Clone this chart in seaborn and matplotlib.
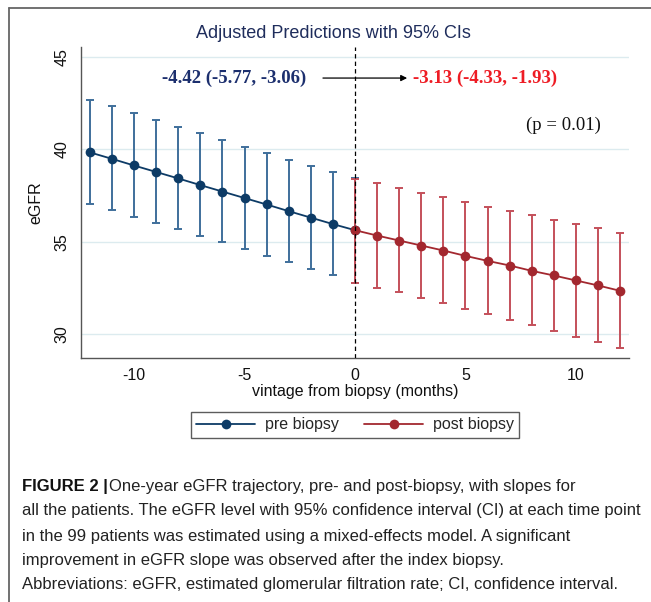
import matplotlib
matplotlib.use("Agg")
import matplotlib.pyplot as plt
from matplotlib.lines import Line2D
import seaborn as sns
import pandas as pd

# ---- data: adjusted eGFR predictions with 95% CIs ----
months_pre = [-12, -11, -10, -9, -8, -7, -6, -5, -4, -3, -2, -1, 0]
egfr_pre = [39.84, 39.49, 39.13, 38.78, 38.43, 38.07, 37.72, 37.37, 37.02, 36.66, 36.31, 35.96, 35.63]
lo_pre = [37.02, 36.72, 36.35, 36.03, 35.67, 35.32, 34.97, 34.62, 34.26, 33.90, 33.54, 33.20, 32.80]
hi_pre = [42.67, 42.34, 41.95, 41.58, 41.22, 40.87, 40.50, 40.14, 39.82, 39.44, 39.10, 38.79, 38.43]

months_post = [0, 1, 2, 3, 4, 5, 6, 7, 8, 9, 10, 11, 12]
egfr_post = [35.63, 35.34, 35.07, 34.80, 34.53, 34.24, 33.97, 33.72, 33.43, 33.18, 32.91, 32.64, 32.35]
lo_post = [32.80, 32.51, 32.26, 31.95, 31.67, 31.36, 31.07, 30.76, 30.48, 30.17, 29.86, 29.56, 29.26]
hi_post = [38.41, 38.16, 37.91, 37.65, 37.42, 37.16, 36.91, 36.68, 36.43, 36.19, 35.96, 35.74, 35.49]

series_labels = ["pre biopsy", "post biopsy"]
slope_pre = "-4.42 (-5.77, -3.06)"
slope_post = "-3.13 (-4.33, -1.93)"
p_text = "(p = 0.01)"
y_ticks = [30, 35, 40, 45]
x_ticks = [-10, -5, 0, 5, 10]

caption_head = "FIGURE 2 |"
caption_lines = [
    "One-year eGFR trajectory, pre- and post-biopsy, with slopes for",
    "all the patients. The eGFR level with 95% confidence interval (CI) at each time point",
    "in the 99 patients was estimated using a mixed-effects model. A significant",
    "improvement in eGFR slope was observed after the index biopsy.",
    "Abbreviations: eGFR, estimated glomerular filtration rate; CI, confidence interval.",
]

# ---- styling ----
sns.set_style("white")
plt.rcParams["font.family"] = ["Liberation Sans", "DejaVu Sans"]
plt.rcParams["axes.unicode_minus"] = False
SERIF = ["Liberation Serif", "DejaVu Serif"]

pre_mark, pre_bar = "#0d3b66", "#3f6f9b"
post_mark, post_bar = "#a3282f", "#c4505a"

W, H = 651, 602
fig = plt.figure(figsize=(W / 100, H / 100), dpi=100)
fig.patch.set_facecolor("white")

ax = fig.add_axes([81 / W, 1 - 358.3 / H, (629 - 81) / W, (358.3 - 47) / H])

df = pd.concat([
    pd.DataFrame({"month": months_pre, "egfr": egfr_pre, "period": series_labels[0]}),
    pd.DataFrame({"month": months_post, "egfr": egfr_post, "period": series_labels[1]}),
], ignore_index=True)

# confidence intervals
for m, est, lo, hi, col in [(months_pre, egfr_pre, lo_pre, hi_pre, pre_bar),
                            (months_post, egfr_post, lo_post, hi_post, post_bar)]:
    yerr = [[e - l for e, l in zip(est, lo)], [h - e for e, h in zip(est, hi)]]
    ax.errorbar(m, est, yerr=yerr, fmt="none", ecolor=col, elinewidth=1.4,
                capsize=3.0, capthick=1.4, zorder=2)

# point estimates joined by lines
sns.lineplot(data=df, x="month", y="egfr", hue="period",
             palette={series_labels[0]: pre_mark, series_labels[1]: post_mark},
             marker="o", markersize=7, markeredgewidth=0, linewidth=1.3,
             legend=False, ax=ax, zorder=3)

ax.axvline(0, color="black", linestyle=(0, (3.5, 2.5)), linewidth=0.9, zorder=4)

ax.set_xlim(-12.4, 12.4)
ax.set_ylim(28.70, 45.54)
ax.set_xticks(x_ticks)
ax.set_yticks(y_ticks)
ax.grid(axis="y", color="#dcebef", linewidth=1.0)
ax.grid(axis="x", visible=False)
for s in ["top", "right"]:
    ax.spines[s].set_visible(False)
for s in ["left", "bottom"]:
    ax.spines[s].set_color("#555555")
    ax.spines[s].set_linewidth(1.0)
ax.tick_params(axis="both", length=4, width=1, color="#666666", labelsize=11.5,
               labelcolor="#111111", direction="out")
ax.tick_params(axis="x", pad=3)
ax.tick_params(axis="y", pad=4)
for lab in ax.get_yticklabels():
    lab.set_rotation(90)
    lab.set_va("center")
ax.set_xlabel("vintage from biopsy (months)", fontsize=11.5, color="#111111", labelpad=1)
ax.set_ylabel("eGFR", fontsize=11.5, color="#111111", labelpad=8)

# slope annotations
ax.text(-5.45, 43.86, slope_pre, ha="center", va="center", fontsize=13.5,
        fontweight="bold", color="#1c2f6e", family=SERIF)
ax.text(2.62, 43.86, slope_post, ha="left", va="center", fontsize=13.5,
        fontweight="bold", color="#ee1c24", family=SERIF)
ax.annotate("", xy=(2.36, 43.86), xytext=(-1.45, 43.86),
            arrowprops=dict(arrowstyle="-|>", color="black", lw=0.9,
                            mutation_scale=9, shrinkA=0, shrinkB=0))
ax.text(9.45, 41.32, p_text, ha="center", va="center", fontsize=13.5,
        color="#111111", family=SERIF)

fig.text(333 / W, 1 - 33 / H, "Adjusted Predictions with 95% CIs", ha="center",
         va="center", fontsize=13, color="#1f2d5c")

# legend
handles = [Line2D([], [], color=pre_mark, marker="o", markersize=7, lw=1.3, markeredgewidth=0),
           Line2D([], [], color=post_mark, marker="o", markersize=7, lw=1.3, markeredgewidth=0)]
leg = fig.legend(handles, series_labels, loc="center", bbox_to_anchor=(355 / W, 1 - 425 / H),
                 ncol=2, frameon=True, fancybox=False, edgecolor="#333333", fontsize=11.5,
                 handlelength=3.7, handletextpad=0.6, columnspacing=1.6, borderpad=0.35)
leg.get_frame().set_linewidth(1.0)

# page frame
fig.add_artist(Line2D([9 / W, 1], [1 - 8 / H, 1 - 8 / H], transform=fig.transFigure,
                      color="#666666", lw=1.3))
fig.add_artist(Line2D([9 / W, 9 / W], [0, 1 - 8 / H], transform=fig.transFigure,
                      color="#666666", lw=1.3))

# caption: size chosen so the widest line fits the text column
cap_left, cap_right = 22, 638
cap_y = [487, 511, 536, 561, 585]
fig.canvas.draw()
widest = 0
for line in caption_lines[1:]:
    probe = fig.text(0, 0, line, fontsize=13)
    widest = max(widest, probe.get_window_extent(fig.canvas.get_renderer()).width)
    probe.remove()
cap_size = 13 * (cap_right - cap_left) / widest

head = fig.text(cap_left / W, 1 - cap_y[0] / H, caption_head, ha="left", va="center",
                fontsize=cap_size, fontweight="bold", color="#111111")
fig.canvas.draw()
bb = head.get_window_extent()
fig.text((bb.x1 + 1) / W, 1 - cap_y[0] / H, caption_lines[0], ha="left", va="center",
         fontsize=cap_size, color="#222222")
for yy, line in zip(cap_y[1:], caption_lines[1:]):
    fig.text(cap_left / W, 1 - yy / H, line, ha="left", va="center", fontsize=cap_size,
             color="#222222")

fig.savefig("out.png", dpi=100, facecolor="white")
